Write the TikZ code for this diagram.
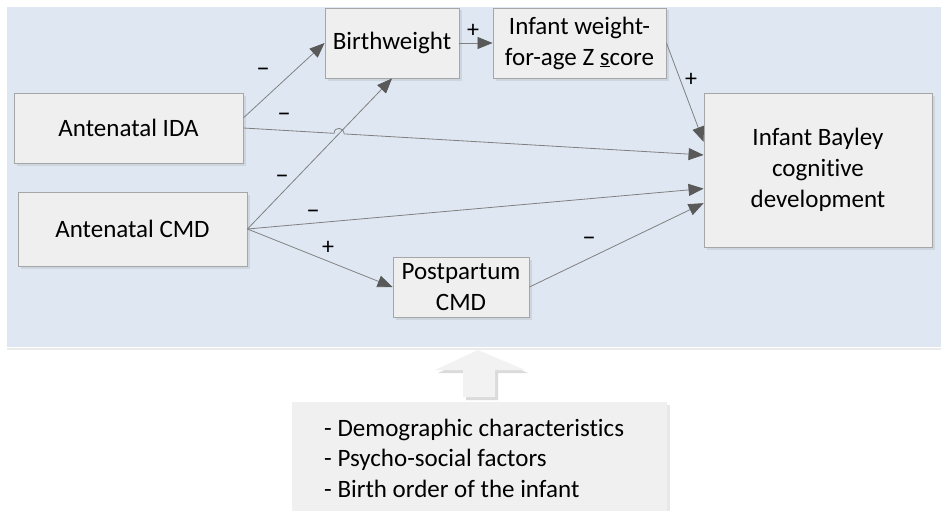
\documentclass[tikz,border=0pt]{standalone}
\usepackage{fontspec}
\setmainfont{Carlito}[Ligatures=CommonOff]
\usetikzlibrary{arrows.meta,calc,shadows}
\definecolor{panelblue}{HTML}{DFE8F2}
\definecolor{boxfill}{HTML}{EFEFEF}
\definecolor{boxline}{HTML}{A6A6A6}
\definecolor{lnk}{HTML}{808080}
\definecolor{tip}{HTML}{595959}
\tikzset{
  box/.style={draw=boxline, fill=boxfill, line width=0.9pt, inner sep=0pt, align=center,
    font=\fontsize{25}{31}\selectfont,
    drop shadow={shadow xshift=2.5pt, shadow yshift=-2.5pt, fill=black, opacity=0.08}},
  link/.style={draw=lnk, line width=0.8pt, -{Triangle[length=15pt,width=12pt,fill=tip,color=tip]}},
  plainlink/.style={draw=lnk, line width=0.8pt},
  sgn/.style={font=\fontsize{24}{24}\selectfont, inner sep=0pt},
  neg/.style={font=\fontsize{27}{27}\selectfont, inner sep=0pt}
}
\begin{document}
\begin{tikzpicture}[x=1pt,y=-1pt]
\useasboundingbox (0,0) rectangle (941,511);
% panel
\fill[black!8] (7,348) rectangle (941,350);
\fill[panelblue] (7,7) rectangle (941,347);
% nodes
\node[box, minimum width=229pt, minimum height=70pt] (ida) at (128.5,128) {Antenatal IDA};
\node[box, minimum width=229pt, minimum height=74pt] (cmd) at (132.5,229) {Antenatal CMD};
\node[box, minimum width=134pt, minimum height=70pt] (bw) at (392,43) {Birthweight};
\node[box, minimum width=173pt, minimum height=70pt] (waz) at (579.5,43) {Infant weight-\\for-age Z \underline{s}core};
\node[box, minimum width=228pt, minimum height=154pt] (bay) at (818,170) {Infant Bayley\\cognitive\\development};
\node[box, minimum width=136pt, minimum height=60pt] (pp) at (461,287) {Postpartum\\CMD};
% anchor points
\coordinate (idaA) at ($(ida.north east)!0.357!(ida.south east)$);
\coordinate (bayW) at ($(bay.north west)!0.318!(bay.south west)$);
\coordinate (bayI) at ($(bay.north west)!0.403!(bay.south west)$);
\coordinate (bayC) at ($(bay.north west)!0.62!(bay.south west)$);
\coordinate (bayP) at ($(bay.north west)!0.714!(bay.south west)$);
% connectors
\draw[link] (idaA) -- (bw.west);
\draw[link] (cmd.east) -- (bw.south);
\coordinate (hx) at (intersection of ida.east--bayI and cmd.east--bw.south);
\coordinate (h1) at ($(hx)!5pt!(ida.east)$);
\coordinate (h2) at ($(hx)!5pt!(bayI)$);
\draw[plainlink] (ida.east) -- (h1) .. controls ($(h1)+(0,-7)$) and ($(h2)+(0,-7)$) .. (h2);
\draw[link] (h2) -- (bayI);
\draw[link] (cmd.east) -- (bayC);
\draw[link] (cmd.east) -- (pp.west);
\draw[link] (pp.east) -- (bayP);
\draw[link] (bw.east) -- (waz.west);
\draw[link] (waz.east) -- (bayW);
% signs
\node[neg] (s1) at (263,72) {–};
\node[neg] (s2) at (284,117) {–};
\node[neg] (s3) at (282,179) {–};
\node[neg] (s4) at (313,214) {–};
\node[sgn] (s5) at (328,248) {+};
\node[neg] (s6) at (589,241) {–};
\node[sgn] (s7) at (473,31) {+};
\node[sgn] (s8) at (691,80) {+};
% big arrow
\fill[black!14] (481,353) -- (528,373) -- (498,373) -- (498,400) -- (466,400) -- (466,373) -- (438,373) -- cycle;
\fill[black!5] (478,350) -- (525,370) -- (495,370) -- (495,397) -- (463,397) -- (463,370) -- (435,370) -- cycle;
% bottom box
\fill[black!9] (667,405) rectangle (670,511);
\fill[black!6] (292,402) rectangle (667,511);
\node[anchor=west, align=left, inner sep=0pt, font=\fontsize{25}{30.5}\selectfont] (factors) at (324,458)
  {- Demographic characteristics\\- Psycho-social factors\\- Birth order of the infant};
\end{tikzpicture}
\end{document}
